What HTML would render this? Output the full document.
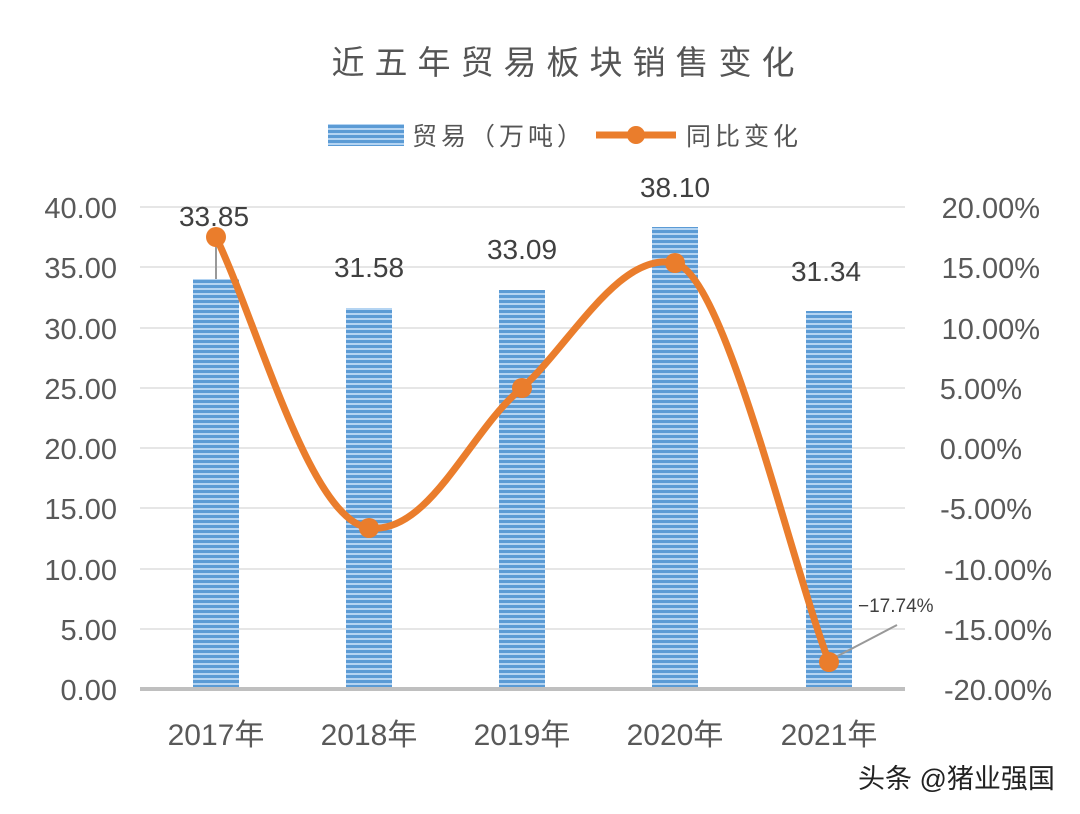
<!DOCTYPE html>
<html><head><meta charset="utf-8"><style>
body{margin:0;background:#fff}
svg{display:block}
text{font-family:"Liberation Sans","Noto Sans CJK SC",sans-serif}
</style></head><body>
<svg width="1080" height="814" viewBox="0 0 1080 814" xmlns="http://www.w3.org/2000/svg">
<defs>
<pattern id="st" width="10" height="5" patternUnits="userSpaceOnUse">
<rect width="10" height="5" fill="#5b9bd5"/>
<rect y="3" width="10" height="2" fill="#b4d4f2"/>
</pattern>
</defs>
<rect width="1080" height="814" fill="#fff"/>
<text x="568" y="74" text-anchor="middle" font-size="33" fill="#555" letter-spacing="10">近五年贸易板块销售变化</text>
<!-- legend -->
<rect x="328" y="124" width="76" height="22" fill="url(#st)"/>
<text x="412" y="145" font-size="25" fill="#555" letter-spacing="4">贸易（万吨）</text>
<line x1="596" y1="135" x2="676" y2="135" stroke="#ea7d2c" stroke-width="7"/>
<circle cx="636" cy="135" r="9" fill="#ea7d2c"/>
<text x="686" y="145" font-size="25" fill="#555" letter-spacing="4">同比变化</text>
<!-- gridlines -->
<g stroke="#e6e6e6" stroke-width="2">
<line x1="140" y1="207" x2="905" y2="207"/>
<line x1="140" y1="267" x2="905" y2="267"/>
<line x1="140" y1="328" x2="905" y2="328"/>
<line x1="140" y1="388" x2="905" y2="388"/>
<line x1="140" y1="448" x2="905" y2="448"/>
<line x1="140" y1="508" x2="905" y2="508"/>
<line x1="140" y1="569" x2="905" y2="569"/>
<line x1="140" y1="629" x2="905" y2="629"/>
</g>
<!-- bars -->
<rect x="193" y="279" width="46" height="410" fill="url(#st)"/>
<rect x="346" y="308" width="46" height="381" fill="url(#st)"/>
<rect x="499" y="290" width="46" height="399" fill="url(#st)"/>
<rect x="652" y="227" width="46" height="462" fill="url(#st)"/>
<rect x="806" y="311" width="46" height="378" fill="url(#st)"/>
<line x1="140" y1="689" x2="905" y2="689" stroke="#bfbfbf" stroke-width="4"/>
<!-- left axis -->
<g font-size="29" fill="#595959" text-anchor="end">
<text x="117" y="218">40.00</text><text x="117" y="278">35.00</text><text x="117" y="339">30.00</text>
<text x="117" y="399">25.00</text><text x="117" y="459">20.00</text><text x="117" y="519">15.00</text>
<text x="117" y="580">10.00</text><text x="117" y="640">5.00</text><text x="117" y="700">0.00</text>
</g>
<g font-size="29" fill="#595959" text-anchor="end">
<text x="1040" y="218">20.00%</text><text x="1040" y="278">15.00%</text><text x="1040" y="339">10.00%</text>
<text x="1022" y="399">5.00%</text><text x="1022" y="459">0.00%</text><text x="1032" y="519">-5.00%</text>
<text x="1052" y="580">-10.00%</text><text x="1052" y="640">-15.00%</text><text x="1052" y="700">-20.00%</text>
</g>
<g font-size="30" fill="#595959" text-anchor="middle">
<text x="216" y="745">2017年</text><text x="369" y="745">2018年</text><text x="522" y="745">2019年</text>
<text x="675" y="745">2020年</text><text x="829" y="745">2021年</text>
</g>
<!-- value labels -->
<g font-size="28" fill="#404040" text-anchor="middle">
<text x="214" y="226">33.85</text><text x="369" y="277">31.58</text><text x="522" y="259">33.09</text>
<text x="675" y="197">38.10</text><text x="826" y="281">31.34</text>
</g>
<line x1="216" y1="240" x2="216" y2="279" stroke="#999" stroke-width="2"/>
<line x1="830" y1="660" x2="897" y2="625" stroke="#999" stroke-width="2"/>
<text x="858" y="612" font-size="19" fill="#404040">−17.74%</text>
<!-- line -->
<path d="M216,237 C260,330 310,520 369,528 C430,535 470,430 522,388 C570,345 620,250 675,263 C725,275 790,560 829,662" fill="none" stroke="#ea7d2c" stroke-width="7" stroke-linejoin="round"/>
<g fill="#ea7d2c">
<circle cx="216" cy="237" r="10"/><circle cx="369" cy="528" r="10"/><circle cx="522" cy="388" r="10"/>
<circle cx="675" cy="263" r="10"/><circle cx="829" cy="662" r="10"/>
</g>
<text x="858" y="788" font-size="27" fill="#222">头条 @猪业强国</text>
</svg>
</body></html>
